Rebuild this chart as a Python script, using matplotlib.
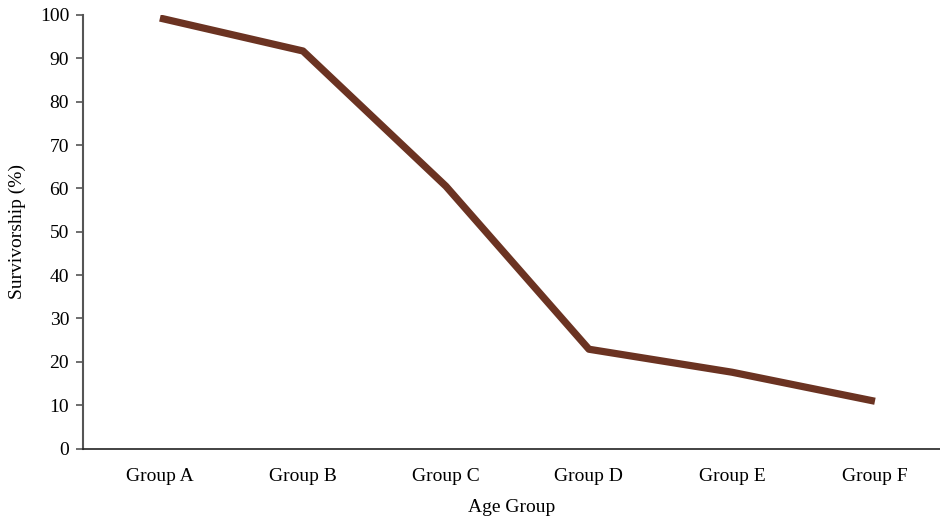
import matplotlib
matplotlib.use("Agg")
import matplotlib.pyplot as plt

grupos = ["Group A", "Group B", "Group C", "Group D", "Group E", "Group F"]
sobrevivencia = [99.3, 91.7, 60.5, 22.9, 17.6, 10.9]
yticks = list(range(0, 101, 10))

plt.rcParams['font.family'] = ['Liberation Serif', 'DejaVu Serif']
plt.rcParams['font.size'] = 14

fig = plt.figure(figsize=(9.4, 5.19), dpi=100)
ax = fig.add_axes([83 / 940, 70.5 / 519, 857 / 940, 433.5 / 519])

x = list(range(len(grupos)))
ax.plot(x, sobrevivencia, color='#6b3322', linewidth=5.2, solid_capstyle='butt')

ax.set_xlim(-0.538, 5.455)
ax.set_ylim(0, 100)
ax.set_xticks(x)
ax.set_xticklabels(grupos)
ax.set_yticks(yticks)
ax.tick_params(axis='x', length=0, pad=14)
ax.tick_params(axis='y', length=5, width=1.2, color='#555555', pad=5)

ax.spines['top'].set_visible(False)
ax.spines['right'].set_visible(False)
ax.spines['left'].set_color('#555555')
ax.spines['left'].set_linewidth(1.5)
ax.spines['bottom'].set_color('#222222')
ax.spines['bottom'].set_linewidth(1.2)

ax.set_xlabel("Age Group", labelpad=10)
ax.set_ylabel("Survivorship (%)", labelpad=10)

fig.savefig("out.png", dpi=100)
